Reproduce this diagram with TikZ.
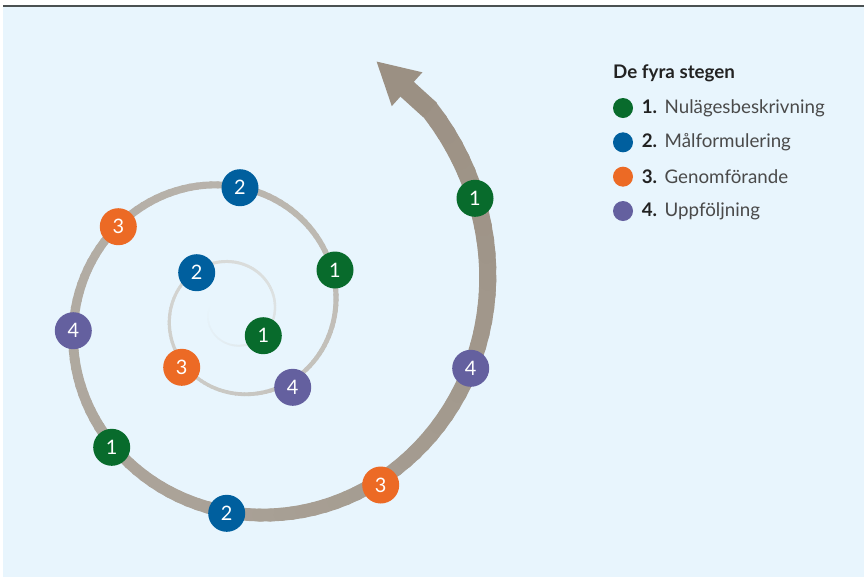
\documentclass[tikz,border=0pt]{standalone}
\usepackage{fontspec}
\setmainfont{Lato}
\usetikzlibrary{arrows.meta,calc,positioning}
\definecolor{bgblue}{HTML}{E8F5FD}
\definecolor{topline}{HTML}{4B5152}
\definecolor{ringlight}{HTML}{D9DBD9}
\definecolor{ringdark}{HTML}{9B9083}
\definecolor{nulgreen}{HTML}{086B2C}
\definecolor{malblue}{HTML}{005F9E}
\definecolor{genorange}{HTML}{EC6A25}
\definecolor{uppviolet}{HTML}{64609F}
\definecolor{legtext}{HTML}{4A4A4A}
\definecolor{legnum}{HTML}{222222}

\begin{document}
\begin{tikzpicture}[x=0.03cm, y=-0.03cm, font=\fontsize{17}{20}\selectfont,
                every node/.style={inner sep=0pt},
                stepdot/.style={circle, minimum size=1.11cm, text=white},
                nulage/.style={stepdot, fill=nulgreen},
                malform/.style={stepdot, fill=malblue},
                genomf/.style={stepdot, fill=genorange},
                uppfolj/.style={stepdot, fill=uppviolet},
                legdot/.style={circle, minimum size=0.6cm},
                legtxt/.style={font=\fontsize{16}{19}\selectfont, text=legtext}]
                % background and top rule
                \fill[white] (0,0) rectangle (864,577);
                \fill[bgblue] (2.5,7.4) rectangle (864,577);
                \fill[topline] (2.5,5) rectangle (864,7.4);
                \useasboundingbox (0,0) rectangle (864,577);

                % spiral, thin and pale inside, wide and dark outside
                \foreach \t in {-200,-197,...,763}{
                    \pgfmathsetmacro\ra{51*exp(0.145*(\t-90)*pi/180)}
                    \pgfmathsetmacro\rb{51*exp(0.145*(\t+3.4-90)*pi/180)}
                    \pgfmathsetmacro\s{max((\t-90)/690,0.001)}
                    \pgfmathsetmacro\u{min(max((\t+200)/290,0),1)}
                    \pgfmathsetmacro\lw{0.85*(1+2*\u+17*\s^2.3)}
                    \pgfmathtruncatemacro\pl{100*\u}
                    \pgfmathtruncatemacro\pd{min(100*\s,100)}
                    \colorlet{segc}{ringlight!\pl!bgblue}
                    \colorlet{segc}{ringdark!\pd!segc}
                    \draw[segc, line width=\lw pt, line cap=round]
                        ({234+\ra*cos(\t)},{313-\ra*sin(\t)}) -- ({234+\rb*cos(\t+3.4)},{313-\rb*sin(\t+3.4)});
                }
                \pgfmathsetmacro\re{51*exp(0.145*(766-90)*pi/180)}
                \coordinate (arrA) at ({234+\re*cos(766)},{313-\re*sin(766)});
                \coordinate (tip) at (376,61);
                \draw[ringdark, line width=17pt, -{Triangle[length=1.26cm,width=1.27cm]}] (arrA) -- (tip);

                % steps on the spiral
                \node[nulage] (n1a) at (263.3,335.7) {1};
                \node[malform] (m2a) at (196.7,272.7) {2};
                \node[genomf] (g3a) at (181.7,367.3) {3};
                \node[uppfolj] (u4a) at (292.7,387.3) {4};
                \node[nulage] (n1b) at (335,270) {1};
                \node[malform] (m2b) at (240,187.7) {2};
                \node[genomf] (g3b) at (118.3,226.7) {3};
                \node[uppfolj] (u4b) at (73.3,330.7) {4};
                \node[nulage] (n1c) at (111.7,447.3) {1};
                \node[malform] (m2c) at (226.7,513.3) {2};
                \node[genomf] (g3c) at (380.7,485) {3};
                \node[uppfolj] (u4c) at (470.7,368.3) {4};
                \node[nulage] (n1d) at (475,198.3) {1};

                % legend
                \node[anchor=west, font=\fontsize{16}{19}\selectfont\bfseries, text=legnum] (legtitle) at (613,73) {De fyra stegen};
                \node[legdot, fill=nulgreen] (leg1) at (623,108) {};
                \node[legdot, fill=malblue, on grid, below=1.03cm of leg1] (leg2) {};
                \node[legdot, fill=genorange, on grid, below=1.03cm of leg2] (leg3) {};
                \node[legdot, fill=uppviolet, on grid, below=1.03cm of leg3] (leg4) {};
                \node[legtxt, right=0.25cm of leg1] (legtxt1) {\textcolor{legnum}{\textbf{1.}}\hspace{0.4em}Nulägesbeskrivning};
                \node[legtxt, right=0.25cm of leg2] (legtxt2) {\textcolor{legnum}{\textbf{2.}}\hspace{0.4em}Målformulering};
                \node[legtxt, right=0.25cm of leg3] (legtxt3) {\textcolor{legnum}{\textbf{3.}}\hspace{0.4em}Genomförande};
                \node[legtxt, right=0.25cm of leg4] (legtxt4) {\textcolor{legnum}{\textbf{4.}}\hspace{0.4em}Uppföljning};
\end{tikzpicture}
\end{document}
